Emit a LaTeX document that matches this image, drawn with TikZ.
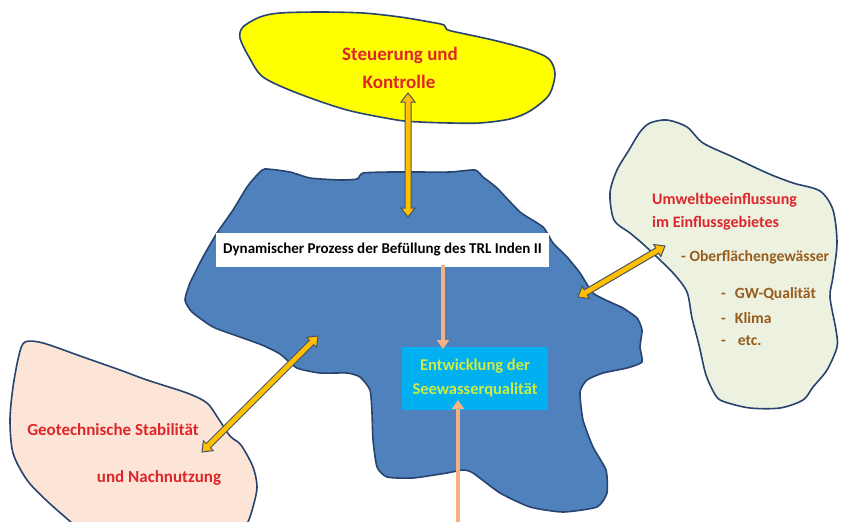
\documentclass[tikz,border=0pt]{standalone}
\usepackage{fontspec}
\setmainfont{Carlito}
\usetikzlibrary{calc,arrows.meta}
\definecolor{lakeblue}{RGB}{79,129,189}
\definecolor{lakeedge}{RGB}{40,68,110}
\definecolor{yelfill}{RGB}{255,255,0}
\definecolor{greenfill}{RGB}{236,241,224}
\definecolor{peachfill}{RGB}{252,229,214}
\definecolor{arrfill}{RGB}{255,192,0}
\definecolor{arredge}{RGB}{75,85,95}
\definecolor{salmon}{RGB}{244,177,131}
\definecolor{redtext}{RGB}{222,38,42}
\definecolor{browntext}{RGB}{152,92,28}
\definecolor{cyanbox}{RGB}{0,176,240}
\definecolor{limetext}{RGB}{205,235,70}
\newcommand\dblarrow[2]{%
  \coordinate (#1-#2-ha) at ($(#1)!9pt!(#2)$);
  \coordinate (#1-#2-hb) at ($(#2)!9pt!(#1)$);
  \draw[fatarrow] (#1) -- ($(#1-#2-ha)!7pt!90:(#2)$) -- ($(#1-#2-ha)!3pt!90:(#2)$)
    -- ($(#1-#2-hb)!3pt!-90:(#1)$) -- ($(#1-#2-hb)!7pt!-90:(#1)$) -- (#2)
    -- ($(#1-#2-hb)!7pt!90:(#1)$) -- ($(#1-#2-hb)!3pt!90:(#1)$)
    -- ($(#1-#2-ha)!3pt!-90:(#2)$) -- ($(#1-#2-ha)!7pt!-90:(#2)$) -- cycle;}
\begin{document}
\begin{tikzpicture}[x=1pt,y=-1pt,
  blob/.style={draw=lakeedge,line width=1.6pt,line join=round},
  fatarrow/.style={draw=arredge,fill=arrfill,line width=1pt,line join=miter},
  salmonarrow/.style={draw=salmon,line width=3.4pt,-{Triangle[length=9pt,width=12pt]}},
  redtxt/.style={text=redtext,font=\fontsize{17}{20}\selectfont\bfseries,inner sep=0pt},
  browntxt/.style={text=browntext,font=\fontsize{15.6}{19}\selectfont\bfseries,inner sep=0pt,anchor=west},
  procbox/.style={fill=white,minimum width=333pt,minimum height=34pt,inner sep=0pt,
    font=\fontsize{15}{18}\selectfont\bfseries,text=black},
  qualbox/.style={fill=cyanbox,minimum width=146pt,minimum height=63pt,inner sep=0pt,
    align=center,font=\fontsize{16.5}{24}\selectfont\bfseries,text=limetext}]
\useasboundingbox (0,0) rectangle (841,522);
\fill[white] (0,0) rectangle (841,522);
% yellow blob
\draw[blob,fill=yelfill] plot[smooth cycle,tension=0.5] coordinates {
 (243,27) (260,17) (280,13) (320,12) (363,13) (400,17) (430,22) (444,25) (448,30)
 (470,35) (497,41) (530,50) (549,59) (555,74) (549,95) (530,111) (510,119)
 (480,123) (450,123) (420,122) (397,120) (347,110) (297,93) (263,77) (249,57) (240,38)};
% green blob
\draw[blob,fill=greenfill] plot[smooth cycle,tension=0.5] coordinates {
 (650,123) (667,120) (687,127) (703,143) (733,157) (767,173) (793,183) (820,191)
 (833,210) (837,243) (833,277) (830,297) (836,330) (837,347) (827,370) (813,387)
 (803,400) (780,408) (750,408) (725,402) (716,396) (706,375) (699,345) (692,318)
 (687,292) (674,274) (660,260) (643,244) (630,233) (614,220) (610,193) (617,170)
 (629,150) (640,132)};
% peach blob
\draw[blob,fill=peachfill] plot[smooth cycle,tension=0.5] coordinates {
 (25,342) (43,343) (83,357) (120,370) (147,380) (187,393) (207,403) (218,418)
 (230,436) (241,445) (253,467) (257,487) (253,507) (247,524) (235,540) (90,540)
 (73,524) (47,501) (27,480) (13,453) (10,420) (13,387) (19,355)};
% blue lake
\draw[blob,fill=lakeblue] plot[smooth cycle,tension=0.35] coordinates {
 (265,169) (290,172) (310,178) (340,180) (357,179) (363,173) (390,172) (413,172)
 (450,172) (475,170) (483,177) (497,188) (520,212) (543,227) (553,243) (567,257)
 (580,273) (593,293) (610,302) (623,308) (637,318) (642,330) (640,347) (642,362)
 (627,368) (603,373) (587,380) (580,392) (583,420) (593,447) (606,470) (607,493)
 (597,507) (563,512) (530,507) (500,493) (473,473) (463,470) (447,473) (413,478)
 (387,477) (377,467) (373,440) (372,413) (370,390) (360,377) (347,373) (320,373)
 (297,368) (280,354) (262,345) (240,337) (213,327) (192,312) (185,300) (190,283)
 (203,257) (217,233) (233,210) (247,187) (257,175)};
% boxes
\node[procbox] (proc) at (382.5,250) {Dynamischer Prozess der Befüllung des TRL Inden II};
\node[qualbox] (qual) at (475,378.5) {Entwicklung der\\Seewasserqualität};
% texts
\node[redtxt,font=\fontsize{19}{22}\selectfont\bfseries] (st1) at (400,55) {Steuerung und};
\node[redtxt,font=\fontsize{19}{22}\selectfont\bfseries] (st2) at (399,82) {Kontrolle};
\node[redtxt,anchor=west,font=\fontsize{16}{19}\selectfont\bfseries] (uw1) at (652,200) {Umweltbeeinflussung};
\node[redtxt,anchor=west,font=\fontsize{16}{19}\selectfont\bfseries] (uw2) at (652,223) {im Einflussgebietes};
\node[browntxt] (ob) at (681,257) {- Oberflächengewässer};
\node[browntxt] (gw) at (721,294) {-\hspace{9pt}GW-Qualität};
\node[browntxt] (kl) at (721,318) {-\hspace{9pt}Klima};
\node[browntxt] (etc) at (721,341) {-\hspace{12pt}etc.};
\node[redtxt] (geo1) at (113,430) {Geotechnische Stabilität};
\node[redtxt] (geo2) at (159,478) {und Nachnutzung};
% orange double arrows
\coordinate (ya) at (408,93);
\coordinate (yb) at (408,217);
\dblarrow{ya}{yb}
\coordinate (ga) at (578,297);
\coordinate (gb) at (665,246);
\dblarrow{ga}{gb}
\coordinate (pa) at (318,336);
\coordinate (pb) at (202,452);
\dblarrow{pa}{pb}
% salmon arrows
\coordinate (s1a) at (443,265);
\coordinate (s1b) at (443,349);
\draw[salmonarrow] (s1a) -- (s1b);
\coordinate (s2a) at (458,522);
\coordinate (s2b) at (458,400);
\draw[salmonarrow] (s2a) -- (s2b);
\end{tikzpicture}
\end{document}
